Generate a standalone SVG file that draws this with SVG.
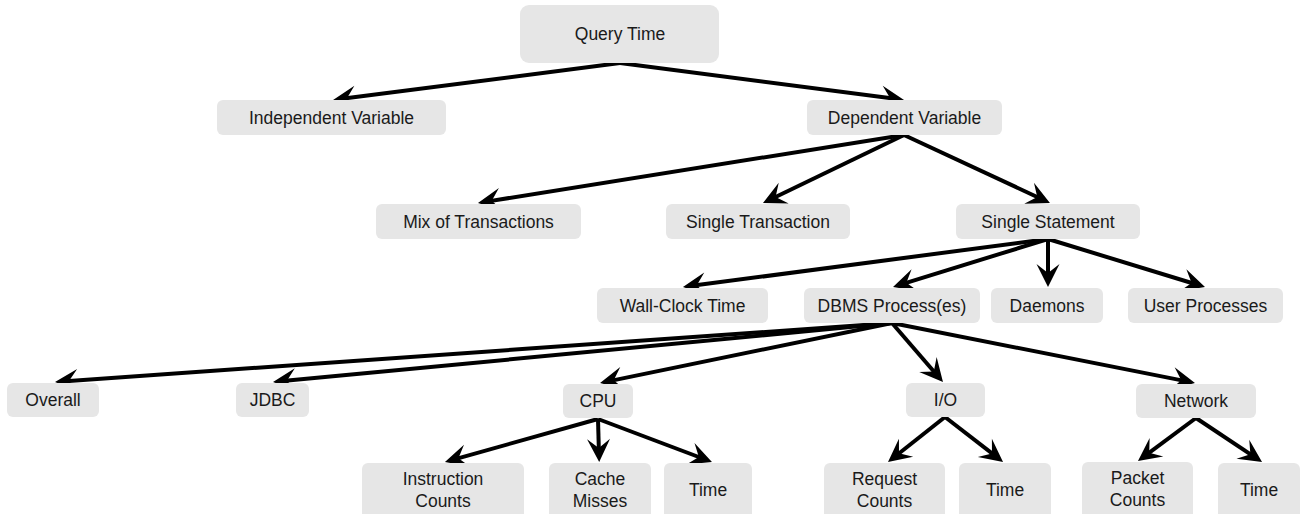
<svg xmlns="http://www.w3.org/2000/svg" width="1307" height="514" viewBox="0 0 1307 514">
<defs>
<style>
.n rect{fill:#e6e6e6;stroke:none}
.n text{font-family:"Liberation Sans",Arial,sans-serif;font-size:17.5px;fill:#1a1a1a;text-anchor:middle}
.c line{stroke:#000;stroke-width:4;marker-end:url(#ah)}
</style>
<marker id="ah" markerUnits="userSpaceOnUse" viewBox="-20 -15 30 30" markerWidth="30" markerHeight="30" refX="0" refY="0" orient="auto" overflow="visible">
<path d="M 7 0 L -16 -11.5 L -7 0 L -16 11.5 Z" fill="#000"/>
</marker>
</defs>
<rect width="1307" height="514" fill="#fff"/>
<g class="c" id="connectors">
<line x1="620" y1="63" x2="340" y2="99.1"/>
<line x1="620" y1="63" x2="897.1" y2="99.1"/>
<line x1="904" y1="135" x2="484.9" y2="201.9"/>
<line x1="904" y1="135" x2="769.3" y2="200"/>
<line x1="904" y1="135" x2="1043.6" y2="200"/>
<line x1="1048" y1="239" x2="689.9" y2="286.1"/>
<line x1="1048" y1="239" x2="899.7" y2="284.9"/>
<line x1="1048" y1="239" x2="1048" y2="280"/>
<line x1="1048" y1="239" x2="1198.3" y2="285"/>
<line x1="892" y1="323" x2="62" y2="381.5"/>
<line x1="892" y1="323" x2="280" y2="381.3"/>
<line x1="892" y1="323" x2="606.9" y2="381.6"/>
<line x1="892" y1="323" x2="938.4" y2="376.7"/>
<line x1="892" y1="323" x2="1188.1" y2="381.6"/>
<line x1="598" y1="419" x2="451.7" y2="460.1"/>
<line x1="598" y1="419" x2="599" y2="455"/>
<line x1="598" y1="419" x2="705.4" y2="459.5"/>
<line x1="945" y1="417" x2="893.5" y2="457.7"/>
<line x1="945" y1="417" x2="997.5" y2="457.7"/>
<line x1="1196" y1="418" x2="1143.6" y2="456.8"/>
<line x1="1196" y1="418" x2="1256.2" y2="458.1"/>
</g>
<g class="n" id="query-time"><rect x="520" y="5" width="199" height="58" rx="9"/><text x="620" y="40">Query Time</text></g>
<g class="n" id="independent-variable"><rect x="217" y="100" width="229" height="35" rx="6"/><text x="331.5" y="123.5">Independent Variable</text></g>
<g class="n" id="dependent-variable"><rect x="807" y="100" width="195" height="35" rx="6"/><text x="904.5" y="123.5">Dependent Variable</text></g>
<g class="n" id="mix-of-transactions"><rect x="376" y="204" width="205" height="35" rx="6"/><text x="478.5" y="227.5">Mix of Transactions</text></g>
<g class="n" id="single-transaction"><rect x="666" y="204" width="184" height="35" rx="6"/><text x="758" y="227.5">Single Transaction</text></g>
<g class="n" id="single-statement"><rect x="956" y="204" width="184" height="35" rx="6"/><text x="1048" y="227.5">Single Statement</text></g>
<g class="n" id="wall-clock-time"><rect x="597" y="288" width="171" height="35" rx="6"/><text x="682.5" y="311.5">Wall-Clock Time</text></g>
<g class="n" id="dbms-processes"><rect x="804" y="288" width="176" height="35" rx="6"/><text x="892" y="311.5">DBMS Process(es)</text></g>
<g class="n" id="daemons"><rect x="991" y="288" width="112" height="35" rx="6"/><text x="1047" y="311.5">Daemons</text></g>
<g class="n" id="user-processes"><rect x="1128" y="288" width="155" height="35" rx="6"/><text x="1205.5" y="311.5">User Processes</text></g>
<g class="n" id="overall"><rect x="7" y="383" width="92" height="34" rx="6"/><text x="53" y="406">Overall</text></g>
<g class="n" id="jdbc"><rect x="236" y="383" width="73" height="34" rx="6"/><text x="272.5" y="406">JDBC</text></g>
<g class="n" id="cpu"><rect x="563" y="384" width="70" height="34" rx="6"/><text x="598" y="407">CPU</text></g>
<g class="n" id="io"><rect x="906" y="383" width="79" height="34" rx="6"/><text x="945.5" y="406">I/O</text></g>
<g class="n" id="network"><rect x="1136" y="384" width="120" height="34" rx="6"/><text x="1196" y="407">Network</text></g>
<g class="n" id="instruction-counts"><rect x="362" y="463" width="162" height="56" rx="6"/><text x="443" y="485">Instruction</text><text x="443" y="507">Counts</text></g>
<g class="n" id="cache-misses"><rect x="549" y="463" width="102" height="56" rx="6"/><text x="600" y="485">Cache</text><text x="600" y="507">Misses</text></g>
<g class="n" id="cpu-time"><rect x="664" y="463" width="88" height="56" rx="6"/><text x="708" y="496">Time</text></g>
<g class="n" id="request-counts"><rect x="824" y="463" width="121" height="56" rx="6"/><text x="884.5" y="485">Request</text><text x="884.5" y="507">Counts</text></g>
<g class="n" id="io-time"><rect x="959" y="463" width="92" height="56" rx="6"/><text x="1005" y="496">Time</text></g>
<g class="n" id="packet-counts"><rect x="1082" y="462" width="111" height="57" rx="6"/><text x="1137.5" y="484">Packet</text><text x="1137.5" y="506">Counts</text></g>
<g class="n" id="network-time"><rect x="1218" y="463" width="82" height="56" rx="6"/><text x="1259" y="496">Time</text></g>
</svg>
